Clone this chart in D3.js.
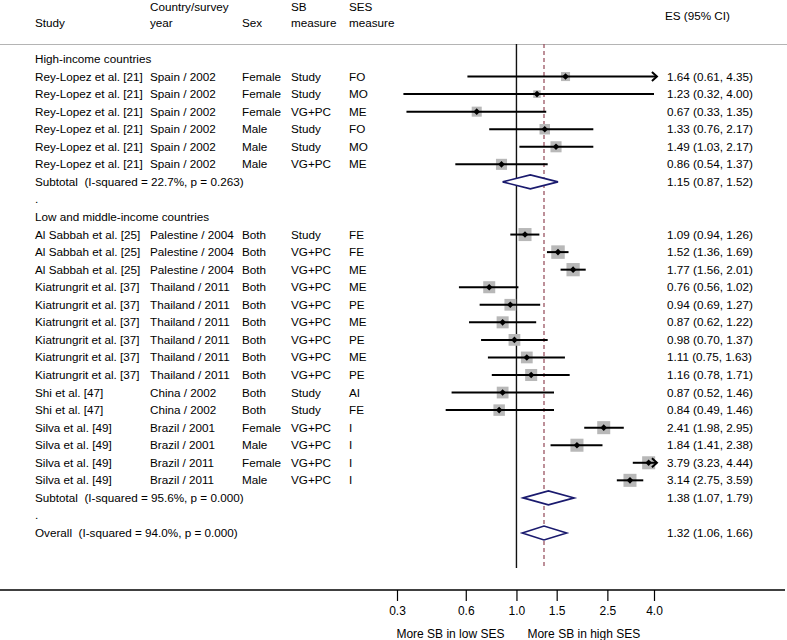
<!DOCTYPE html>
<html>
<head>
<meta charset="utf-8">
<script src="https://cdn.jsdelivr.net/npm/d3@7"></script>
<style>
  html, body { margin: 0; padding: 0; background: #fff; }
  svg text { font-family: "Liberation Sans", Arial, Helvetica, sans-serif; white-space: pre; }
</style>
</head>
<body>
<svg id="chart" width="787" height="640"></svg>
<script>
// ---------------- DATA ----------------
const studies = [
  "Rey-Lopez et al. [21]","Rey-Lopez et al. [21]","Rey-Lopez et al. [21]",
  "Rey-Lopez et al. [21]","Rey-Lopez et al. [21]","Rey-Lopez et al. [21]",
  "Al Sabbah et al. [25]","Al Sabbah et al. [25]","Al Sabbah et al. [25]",
  "Kiatrungrit et al. [37]","Kiatrungrit et al. [37]","Kiatrungrit et al. [37]",
  "Kiatrungrit et al. [37]","Kiatrungrit et al. [37]","Kiatrungrit et al. [37]",
  "Shi et al. [47]","Shi et al. [47]",
  "Silva et al. [49]","Silva et al. [49]","Silva et al. [49]","Silva et al. [49]"
];
const countryYear = [
  "Spain / 2002","Spain / 2002","Spain / 2002","Spain / 2002","Spain / 2002","Spain / 2002",
  "Palestine / 2004","Palestine / 2004","Palestine / 2004",
  "Thailand / 2011","Thailand / 2011","Thailand / 2011","Thailand / 2011","Thailand / 2011","Thailand / 2011",
  "China / 2002","China / 2002",
  "Brazil / 2001","Brazil / 2001","Brazil / 2011","Brazil / 2011"
];
const sex = [
  "Female","Female","Female","Male","Male","Male",
  "Both","Both","Both",
  "Both","Both","Both","Both","Both","Both",
  "Both","Both",
  "Female","Male","Female","Male"
];
const sbMeasure = [
  "Study","Study","VG+PC","Study","Study","VG+PC",
  "Study","VG+PC","VG+PC",
  "VG+PC","VG+PC","VG+PC","VG+PC","VG+PC","VG+PC",
  "Study","Study",
  "VG+PC","VG+PC","VG+PC","VG+PC"
];
const sesMeasure = [
  "FO","MO","ME","FO","MO","ME",
  "FE","FE","ME",
  "ME","PE","ME","PE","ME","PE",
  "AI","FE",
  "I","I","I","I"
];
const groupIndex = [0,0,0,0,0,0, 1,1,1,1,1,1,1,1,1,1,1,1,1,1,1];
const es = [1.64,1.23,0.67,1.33,1.49,0.86, 1.09,1.52,1.77, 0.76,0.94,0.87,0.98,1.11,1.16, 0.87,0.84, 2.41,1.84,3.79,3.14];
const lo = [0.61,0.32,0.33,0.76,1.03,0.54, 0.94,1.36,1.56, 0.56,0.69,0.62,0.70,0.75,0.78, 0.52,0.49, 1.98,1.41,3.23,2.75];
const hi = [4.35,4.00,1.35,2.17,2.17,1.37, 1.26,1.69,2.01, 1.02,1.27,1.22,1.37,1.63,1.71, 1.46,1.46, 2.95,2.38,4.44,3.59];
const weights = [2.6,1.8,3.2,3.5,3.9,3.9, 5.4,5.8,5.6, 4.6,4.4,4.6,4.4,4.4,4.6, 4.4,4.2, 5.4,5.4,5.4,5.4];

const groupNames = ["High-income countries","Low and middle-income countries"];
const subtotalLabels = ["Subtotal  (I-squared = 22.7%, p = 0.263)","Subtotal  (I-squared = 95.6%, p = 0.000)"];
const subtotalES = [1.15,1.38];
const subtotalLo = [0.87,1.07];
const subtotalHi = [1.52,1.79];
const overallLabel = "Overall  (I-squared = 94.0%, p = 0.000)";
const overallES = [1.32];
const overallLo = [1.06];
const overallHi = [1.66];

const tickValues = [0.3,0.6,1.0,1.5,2.5,4.0];
const axisLabels = ["More SB in low SES","More SB in high SES"];
const headerLines = [
  {col:"study", lines:["","Study"]},
  {col:"country", lines:["Country/survey","year"]},
  {col:"sex", lines:["","Sex"]},
  {col:"sb", lines:["SB","measure"]},
  {col:"ses", lines:["SES","measure"]}
];
const esHeader = "ES (95% CI)";

// ---------------- LAYOUT ----------------
const svg = d3.select("#chart");
const fmt = d3.format(".2f");
const fs = 11.7;
const colX = {study:35, country:150, sex:242, sb:291, ses:349};
const esX = 667;

// build row list
const rows = [];
groupNames.forEach((g, gi) => {
  rows.push({type:"group", label:g});
  es.forEach((v, i) => {
    if (groupIndex[i] === gi) rows.push({type:"study", i});
  });
  rows.push({type:"sub", label:subtotalLabels[gi], es:subtotalES[gi], lo:subtotalLo[gi], hi:subtotalHi[gi]});
  rows.push({type:"dot", label:"."});
});
rows.pop();
rows.push({type:"dot", label:"."});
rows.push({type:"sub", label:overallLabel, es:overallES[0], lo:overallLo[0], hi:overallHi[0]});

const y = d3.scaleLinear().domain([0, rows.length - 1]).range([59, 533]);
const x = d3.scaleLog().domain([0.3, 4.0]).range([397, 654]);
const clipHi = 4.12, clipLo = 0.3;
const boxSide = d3.scaleSqrt().domain([0, 5.8]).range([0, 13.5]);

// header
const hdr = svg.append("g").attr("font-size", fs).attr("fill", "#000");
headerLines.forEach(h => {
  h.lines.forEach((t, k) => {
    if (!t) return;
    hdr.append("text").attr("x", colX[h.col]).attr("y", 11 + k * 16).text(t);
  });
});
hdr.append("text").attr("x", esX - 2).attr("y", 20).text(esHeader);

svg.append("line").attr("x1", 0).attr("x2", 787).attr("y1", 44.5).attr("y2", 44.5)
  .attr("stroke", "#b4b4b4").attr("stroke-width", 1.2);

// reference lines
svg.append("line").attr("x1", x(1)).attr("x2", x(1)).attr("y1", 44).attr("y2", 568)
  .attr("stroke", "#111").attr("stroke-width", 1.4);
svg.append("line").attr("x1", x(overallES[0])).attr("x2", x(overallES[0])).attr("y1", 44).attr("y2", 568)
  .attr("stroke", "#9a5563").attr("stroke-width", 1.3).attr("stroke-dasharray", "4,3");

// rows
const g = svg.append("g").attr("font-size", fs).attr("fill", "#000");
rows.forEach((r, ri) => {
  const cy = y(ri);
  const ty = cy + 4;
  if (r.type === "group" || r.type === "dot") {
    g.append("text").attr("x", colX.study).attr("y", ty).text(r.label);
  } else if (r.type === "study") {
    const i = r.i;
    g.append("text").attr("x", colX.study).attr("y", ty).text(studies[i]);
    g.append("text").attr("x", colX.country).attr("y", ty).text(countryYear[i]);
    g.append("text").attr("x", colX.sex).attr("y", ty).text(sex[i]);
    g.append("text").attr("x", colX.sb).attr("y", ty).text(sbMeasure[i]);
    g.append("text").attr("x", colX.ses).attr("y", ty).text(sesMeasure[i]);
    g.append("text").attr("x", esX).attr("y", ty).text(`${fmt(es[i])} (${fmt(lo[i])}, ${fmt(hi[i])})`);
    // box
    const s = boxSide(weights[i]);
    g.append("rect").attr("x", x(es[i]) - s / 2).attr("y", cy - s / 2).attr("width", s).attr("height", s)
      .attr("fill", "#b8b8b8");
    // CI
    const x0 = x(Math.max(lo[i], clipLo));
    const clipped = hi[i] > clipHi;
    const x1 = x(Math.min(hi[i], clipHi));
    g.append("line").attr("x1", x0).attr("x2", x1).attr("y1", cy).attr("y2", cy)
      .attr("stroke", "#000").attr("stroke-width", 2);
    if (clipped) {
      g.append("path").attr("d", `M${x1 - 5},${cy - 4.5}L${x1},${cy}L${x1 - 5},${cy + 4.5}`)
        .attr("fill", "none").attr("stroke", "#000").attr("stroke-width", 2);
    }
    // point
    const d = 3.3;
    g.append("path").attr("d", `M${x(es[i])},${cy - d}L${x(es[i]) + d},${cy}L${x(es[i])},${cy + d}L${x(es[i]) - d},${cy}Z`)
      .attr("fill", "#000");
  } else if (r.type === "sub") {
    g.append("text").attr("x", colX.study).attr("y", ty).text(r.label);
    g.append("text").attr("x", esX).attr("y", ty).text(`${fmt(r.es)} (${fmt(r.lo)}, ${fmt(r.hi)})`);
    const h = 7;
    g.append("path").attr("d", `M${x(r.lo)},${cy}L${x(r.es)},${cy - h}L${x(r.hi)},${cy}L${x(r.es)},${cy + h}Z`)
      .attr("fill", "#fff").attr("stroke", "#1a1a6e").attr("stroke-width", 1.6);
  }
});

// axis
svg.append("line").attr("x1", 0).attr("x2", 785).attr("y1", 590).attr("y2", 590)
  .attr("stroke", "#000").attr("stroke-width", 1.3);
const axis = d3.axisBottom(x).tickValues(tickValues).tickFormat(d3.format(".1f")).tickSize(11).tickPadding(5);
const ag = svg.append("g").attr("transform", "translate(0,590)").call(axis);
ag.select(".domain").remove();
ag.selectAll(".tick line").attr("stroke", "#000").attr("stroke-width", 1.2);
ag.selectAll(".tick text").attr("font-size", 12).attr("fill", "#000")
  .attr("font-family", "'Liberation Sans', Arial, sans-serif");

svg.append("text").attr("x", x(1) - 12).attr("y", 638).attr("text-anchor", "end").attr("font-size", 12).text(axisLabels[0]);
svg.append("text").attr("x", x(1) + 11).attr("y", 638).attr("text-anchor", "start").attr("font-size", 12).text(axisLabels[1]);
</script>
</body>
</html>
